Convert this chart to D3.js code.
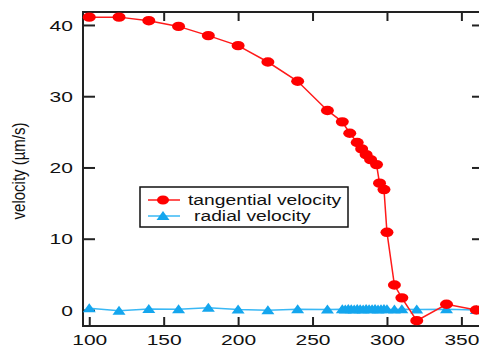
<!DOCTYPE html>
<html>
<head>
<meta charset="utf-8">
<script src="https://cdn.jsdelivr.net/npm/d3@7"></script>
<style>
  body { margin: 0; background: #fff; }
  svg { display: block; font-family: "Liberation Sans", Arial, sans-serif; }
</style>
</head>
<body>
<svg id="chart" width="479" height="349"></svg>
<script>
// data
const tangX = [100,120,140,160,180,200,220,240,260,270,275,280,283,286,289,293,295,298,300,305,310,320,340,360];
const tangY = [41.1,41.1,40.6,39.8,38.5,37.1,34.8,32.1,28.0,26.4,24.8,23.5,22.6,21.8,21.1,20.4,17.8,16.9,10.9,3.5,1.7,-1.5,0.8,0.0];
const radX = [100,120,140,160,180,200,220,240,260,270,272,274,276,278,280,282,284,286,288,290,292,294,296,298,300,305,310,320,340,360];
const radY = [0.25,-0.1,0.15,0.1,0.3,0.05,-0.05,0.1,0.05,0.1,0.05,0.15,0.1,0.05,0.15,0.1,0.05,0.15,0.1,0.1,0.15,0.05,0.1,0.15,0.1,0.05,0.1,0.05,0.1,0.0];
const xTicks = [100,150,200,250,300,350];
const yTicks = [0,10,20,30,40];
const seriesNames = ["tangential velocity", "radial velocity"];
const yLabel = "velocity (\u00b5m/s)";

const svg = d3.select("#chart");
const plotL = 83, plotR = 480, plotT = 12, plotB = 326;

const x = d3.scaleLinear().domain([95.8, 362.5]).range([plotL, plotR]);
const y = d3.scaleLinear().domain([-2.25, 41.82]).range([plotB, plotT]);

// axes, ticks pointing inward
const gB = svg.append("g").attr("transform", `translate(0,${plotB})`)
  .call(d3.axisBottom(x).tickValues(xTicks).tickSizeInner(-9).tickSizeOuter(0).tickPadding(0));
gB.selectAll("text").attr("y", 19).attr("dy", 0)
  .attr("transform", "scale(1.5,1)").style("font-size", "14px");

const gT = svg.append("g").attr("transform", `translate(0,${plotT})`)
  .call(d3.axisTop(x).tickValues(xTicks).tickSizeInner(-9).tickSizeOuter(0).tickFormat(""));

const gL = svg.append("g").attr("transform", `translate(${plotL},0)`)
  .call(d3.axisLeft(y).tickValues(yTicks).tickSizeInner(-12).tickSizeOuter(0));
gL.selectAll("text").attr("x", -6.7).attr("dy", "0.36em")
  .attr("transform", "scale(1.5,1)").style("font-size", "14px");

const gR = svg.append("g").attr("transform", `translate(${plotR},0)`)
  .call(d3.axisRight(y).tickValues(yTicks).tickSizeInner(-8).tickSizeOuter(0).tickFormat(""));

[gB, gT, gL, gR].forEach(g => {
  g.select(".domain").remove();
  g.selectAll("line").attr("stroke", "#222").attr("stroke-width", 2);
  g.selectAll("text").attr("fill", "#111");
});

// frame
svg.append("rect")
  .attr("x", plotL).attr("y", plotT)
  .attr("width", plotR - plotL).attr("height", plotB - plotT)
  .attr("fill", "none").attr("stroke", "#222").attr("stroke-width", 2);

const tri = "M0,-5L6.5,4L-6.5,4Z";

// radial series
const radData = radX.map((d, i) => [d, radY[i]]);
svg.append("path")
  .datum(radData)
  .attr("d", d3.line().x(d => x(d[0])).y(d => y(d[1])))
  .attr("fill", "none").attr("stroke", "#3ab8f5").attr("stroke-width", 1.5);
svg.selectAll("path.tri")
  .data(radData)
  .join("path")
  .attr("class", "tri")
  .attr("d", tri)
  .attr("transform", d => `translate(${x(d[0])},${y(d[1])})`)
  .attr("fill", "#14a6ee");

// tangential series
const tangData = tangX.map((d, i) => [d, tangY[i]]);
svg.append("path")
  .datum(tangData)
  .attr("d", d3.line().x(d => x(d[0])).y(d => y(d[1])))
  .attr("fill", "none").attr("stroke", "#ff1a1a").attr("stroke-width", 1.5);
svg.selectAll("ellipse.dot")
  .data(tangData)
  .join("ellipse")
  .attr("class", "dot")
  .attr("cx", d => x(d[0]))
  .attr("cy", d => y(d[1]))
  .attr("rx", 6.5).attr("ry", 4.7)
  .attr("fill", "#ff0000");

// y label
svg.append("text")
  .attr("transform", "translate(25,171) rotate(-90) scale(1,1.2)")
  .attr("text-anchor", "middle")
  .style("font-size", "15px")
  .attr("fill", "#111")
  .text(yLabel);

// legend
const leg = svg.append("g");
leg.append("rect")
  .attr("x", 140).attr("y", 187).attr("width", 208).attr("height", 40)
  .attr("fill", "#fff").attr("stroke", "#111").attr("stroke-width", 1.5);
const rows = [
  {name: seriesNames[0], y: 200, color: "#ff1a1a", mark: "dot", tx: 188},
  {name: seriesNames[1], y: 216, color: "#3ab8f5", mark: "tri", tx: 194}
];
rows.forEach(r => {
  leg.append("line")
    .attr("x1", 148).attr("x2", 180).attr("y1", r.y).attr("y2", r.y)
    .attr("stroke", r.color).attr("stroke-width", 1.5);
  if (r.mark === "dot") {
    leg.append("ellipse").attr("cx", 163).attr("cy", r.y)
      .attr("rx", 6).attr("ry", 4.5).attr("fill", "#ff0000");
  } else {
    leg.append("path").attr("d", tri)
      .attr("transform", `translate(163,${r.y})`).attr("fill", "#14a6ee");
  }
  leg.append("text")
    .attr("transform", `translate(${r.tx},${r.y + 5}) scale(1.33,1)`)
    .style("font-size", "14.5px")
    .attr("fill", "#111")
    .text(r.name);
});
</script>
</body>
</html>
